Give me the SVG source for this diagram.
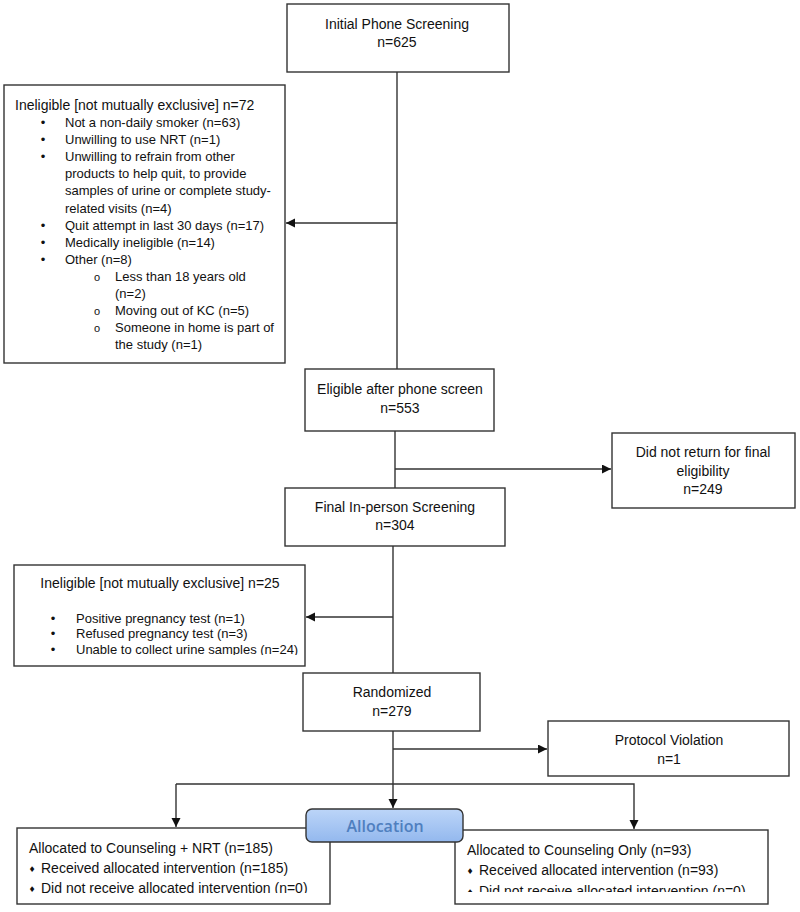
<svg xmlns="http://www.w3.org/2000/svg" width="800" height="912" viewBox="0 0 800 912">
<defs>
<style>
.box{fill:#fff;stroke:#333;stroke-width:1.4}
.t{font-family:"Liberation Sans",Arial,sans-serif;font-size:14px;fill:#111}
.s{font-family:"Liberation Sans",Arial,sans-serif;font-size:13px;fill:#111}
.c{text-anchor:middle}
.ln{stroke:#333;stroke-width:1.4;fill:none}
.bul{font-family:"Liberation Sans",Arial,sans-serif;font-size:13px;fill:#111;text-anchor:middle}
.sub{font-family:"Liberation Sans",Arial,sans-serif;font-size:11px;fill:#111;text-anchor:middle}
.dia{font-family:"DejaVu Sans",sans-serif;font-size:8px;fill:#111;text-anchor:middle}
</style>
<marker id="ah" markerUnits="userSpaceOnUse" markerWidth="10" markerHeight="10" refX="9" refY="4.5" orient="auto">
<path d="M0,0 L9,4.5 L0,9 z" fill="#111"/>
</marker>
<linearGradient id="g" x1="0" y1="0" x2="0" y2="1">
<stop offset="0" stop-color="#bcd5f8"/>
<stop offset="1" stop-color="#93b8ee"/>
</linearGradient>
<clipPath id="c2"><rect x="14" y="565" width="291" height="90"/></clipPath>
<clipPath id="cL"><rect x="17" y="828" width="313" height="65"/></clipPath>
<clipPath id="cR"><rect x="455" y="830" width="313" height="62"/></clipPath>
</defs>
<rect width="800" height="912" fill="#fff"/>

<g id="connectors">
<line class="ln" x1="397" y1="72" x2="397" y2="369"/>
<line class="ln" x1="397" y1="223" x2="286" y2="223" marker-end="url(#ah)"/>
<line class="ln" x1="395" y1="431" x2="395" y2="488"/>
<line class="ln" x1="395" y1="469" x2="611" y2="469" marker-end="url(#ah)"/>
<line class="ln" x1="393" y1="546" x2="393" y2="673"/>
<line class="ln" x1="393" y1="617" x2="306" y2="617" marker-end="url(#ah)"/>
<line class="ln" x1="393" y1="731" x2="393" y2="784"/>
<line class="ln" x1="393" y1="749" x2="547" y2="749" marker-end="url(#ah)"/>
<polyline class="ln" points="176,784 634,784 634,829" marker-end="url(#ah)"/>
<line class="ln" x1="176" y1="784" x2="176" y2="827" marker-end="url(#ah)"/>
<line class="ln" x1="393" y1="784" x2="393" y2="808" marker-end="url(#ah)"/>
</g>

<g id="initial">
<rect class="box" x="287" y="4" width="222" height="68"/>
<text class="t c" x="397" y="29">Initial Phone Screening</text>
<text class="t c" x="397" y="47">n=625</text>
</g>

<g id="ineligible1">
<rect class="box" x="4" y="85" width="281" height="278"/>
<text class="t" x="15" y="110">Ineligible [not mutually exclusive] n=72</text>
<text class="bul" x="43" y="127">•</text><text class="s" x="65" y="127">Not a non-daily smoker (n=63)</text>
<text class="bul" x="43" y="144">•</text><text class="s" x="65" y="144">Unwilling to use NRT (n=1)</text>
<text class="bul" x="43" y="161">•</text><text class="s" x="65" y="161">Unwilling to refrain from other</text>
<text class="s" x="65" y="178">products to help quit, to provide</text>
<text class="s" x="65" y="195">samples of urine or complete study-</text>
<text class="s" x="65" y="213">related visits  (n=4)</text>
<text class="bul" x="43" y="230">•</text><text class="s" x="65" y="230">Quit attempt in last 30 days (n=17)</text>
<text class="bul" x="43" y="247">•</text><text class="s" x="65" y="247">Medically ineligible  (n=14)</text>
<text class="bul" x="43" y="264">•</text><text class="s" x="65" y="264">Other (n=8)</text>
<text class="sub" x="97" y="281">o</text><text class="s" x="115" y="281">Less than 18 years old</text>
<text class="s" x="115" y="298">(n=2)</text>
<text class="sub" x="97" y="315">o</text><text class="s" x="115" y="315">Moving out of KC (n=5)</text>
<text class="sub" x="97" y="332">o</text><text class="s" x="115" y="332">Someone in home is part of</text>
<text class="s" x="115" y="349">the study (n=1)</text>
</g>

<g id="eligible">
<rect class="box" x="305" y="369" width="189" height="62"/>
<text class="t c" x="400" y="394">Eligible after phone screen</text>
<text class="t c" x="400" y="413">n=553</text>
</g>

<g id="didnotreturn">
<rect class="box" x="612" y="433" width="183" height="75"/>
<text class="t c" x="703" y="457">Did not return for final</text>
<text class="t c" x="703" y="476">eligibility</text>
<text class="t c" x="703" y="494">n=249</text>
</g>

<g id="final">
<rect class="box" x="285" y="488" width="220" height="58"/>
<text class="t c" x="395" y="512">Final In-person Screening</text>
<text class="t c" x="395" y="530">n=304</text>
</g>

<g id="ineligible2">
<rect class="box" x="14" y="565" width="291" height="101"/>
<text class="t c" x="160" y="588">Ineligible [not mutually exclusive] n=25</text>
<g clip-path="url(#c2)">
<text class="bul" x="53" y="623">•</text><text class="s" x="76" y="623">Positive pregnancy test (n=1)</text>
<text class="bul" x="53" y="638">•</text><text class="s" x="76" y="638">Refused pregnancy test (n=3)</text>
<text class="bul" x="53" y="654">•</text><text class="s" x="76" y="654">Unable to collect urine samples (n=24)</text>
</g>
</g>

<g id="randomized">
<rect class="box" x="303" y="673" width="177" height="58"/>
<text class="t c" x="392" y="697">Randomized</text>
<text class="t c" x="392" y="716">n=279</text>
</g>

<g id="protocol">
<rect class="box" x="548" y="721" width="241" height="55"/>
<text class="t c" x="669" y="745">Protocol Violation</text>
<text class="t c" x="669" y="764">n=1</text>
</g>

<g id="armNRT">
<rect class="box" x="17" y="828" width="313" height="76"/>
<g clip-path="url(#cL)">
<text class="t" x="29" y="853">Allocated to Counseling + NRT (n=185)</text>
<text class="dia" x="32" y="872">♦</text><text class="t" x="41" y="873">Received allocated intervention (n=185)</text>
<text class="dia" x="32" y="892">♦</text><text class="t" x="41" y="893">Did not receive allocated intervention (n=0)</text>
</g>
</g>

<g id="armCounseling">
<rect class="box" x="455" y="830" width="313" height="74"/>
<g clip-path="url(#cR)">
<text class="t" x="467" y="855">Allocated to Counseling Only (n=93)</text>
<text class="dia" x="470" y="874">♦</text><text class="t" x="479" y="875">Received allocated intervention (n=93)</text>
<text class="dia" x="470" y="895">♦</text><text class="t" x="479" y="896">Did not receive allocated intervention (n=0)</text>
</g>
</g>

<g id="allocation">
<rect x="306" y="809" width="157" height="33" rx="6" fill="url(#g)" stroke="#333" stroke-width="1.4"/>
<text x="385" y="832" text-anchor="middle" font-family="'Open Sans','Noto Sans',sans-serif" font-size="16" font-weight="600" fill="#4f7fbf">Allocation</text>
</g>
</svg>
